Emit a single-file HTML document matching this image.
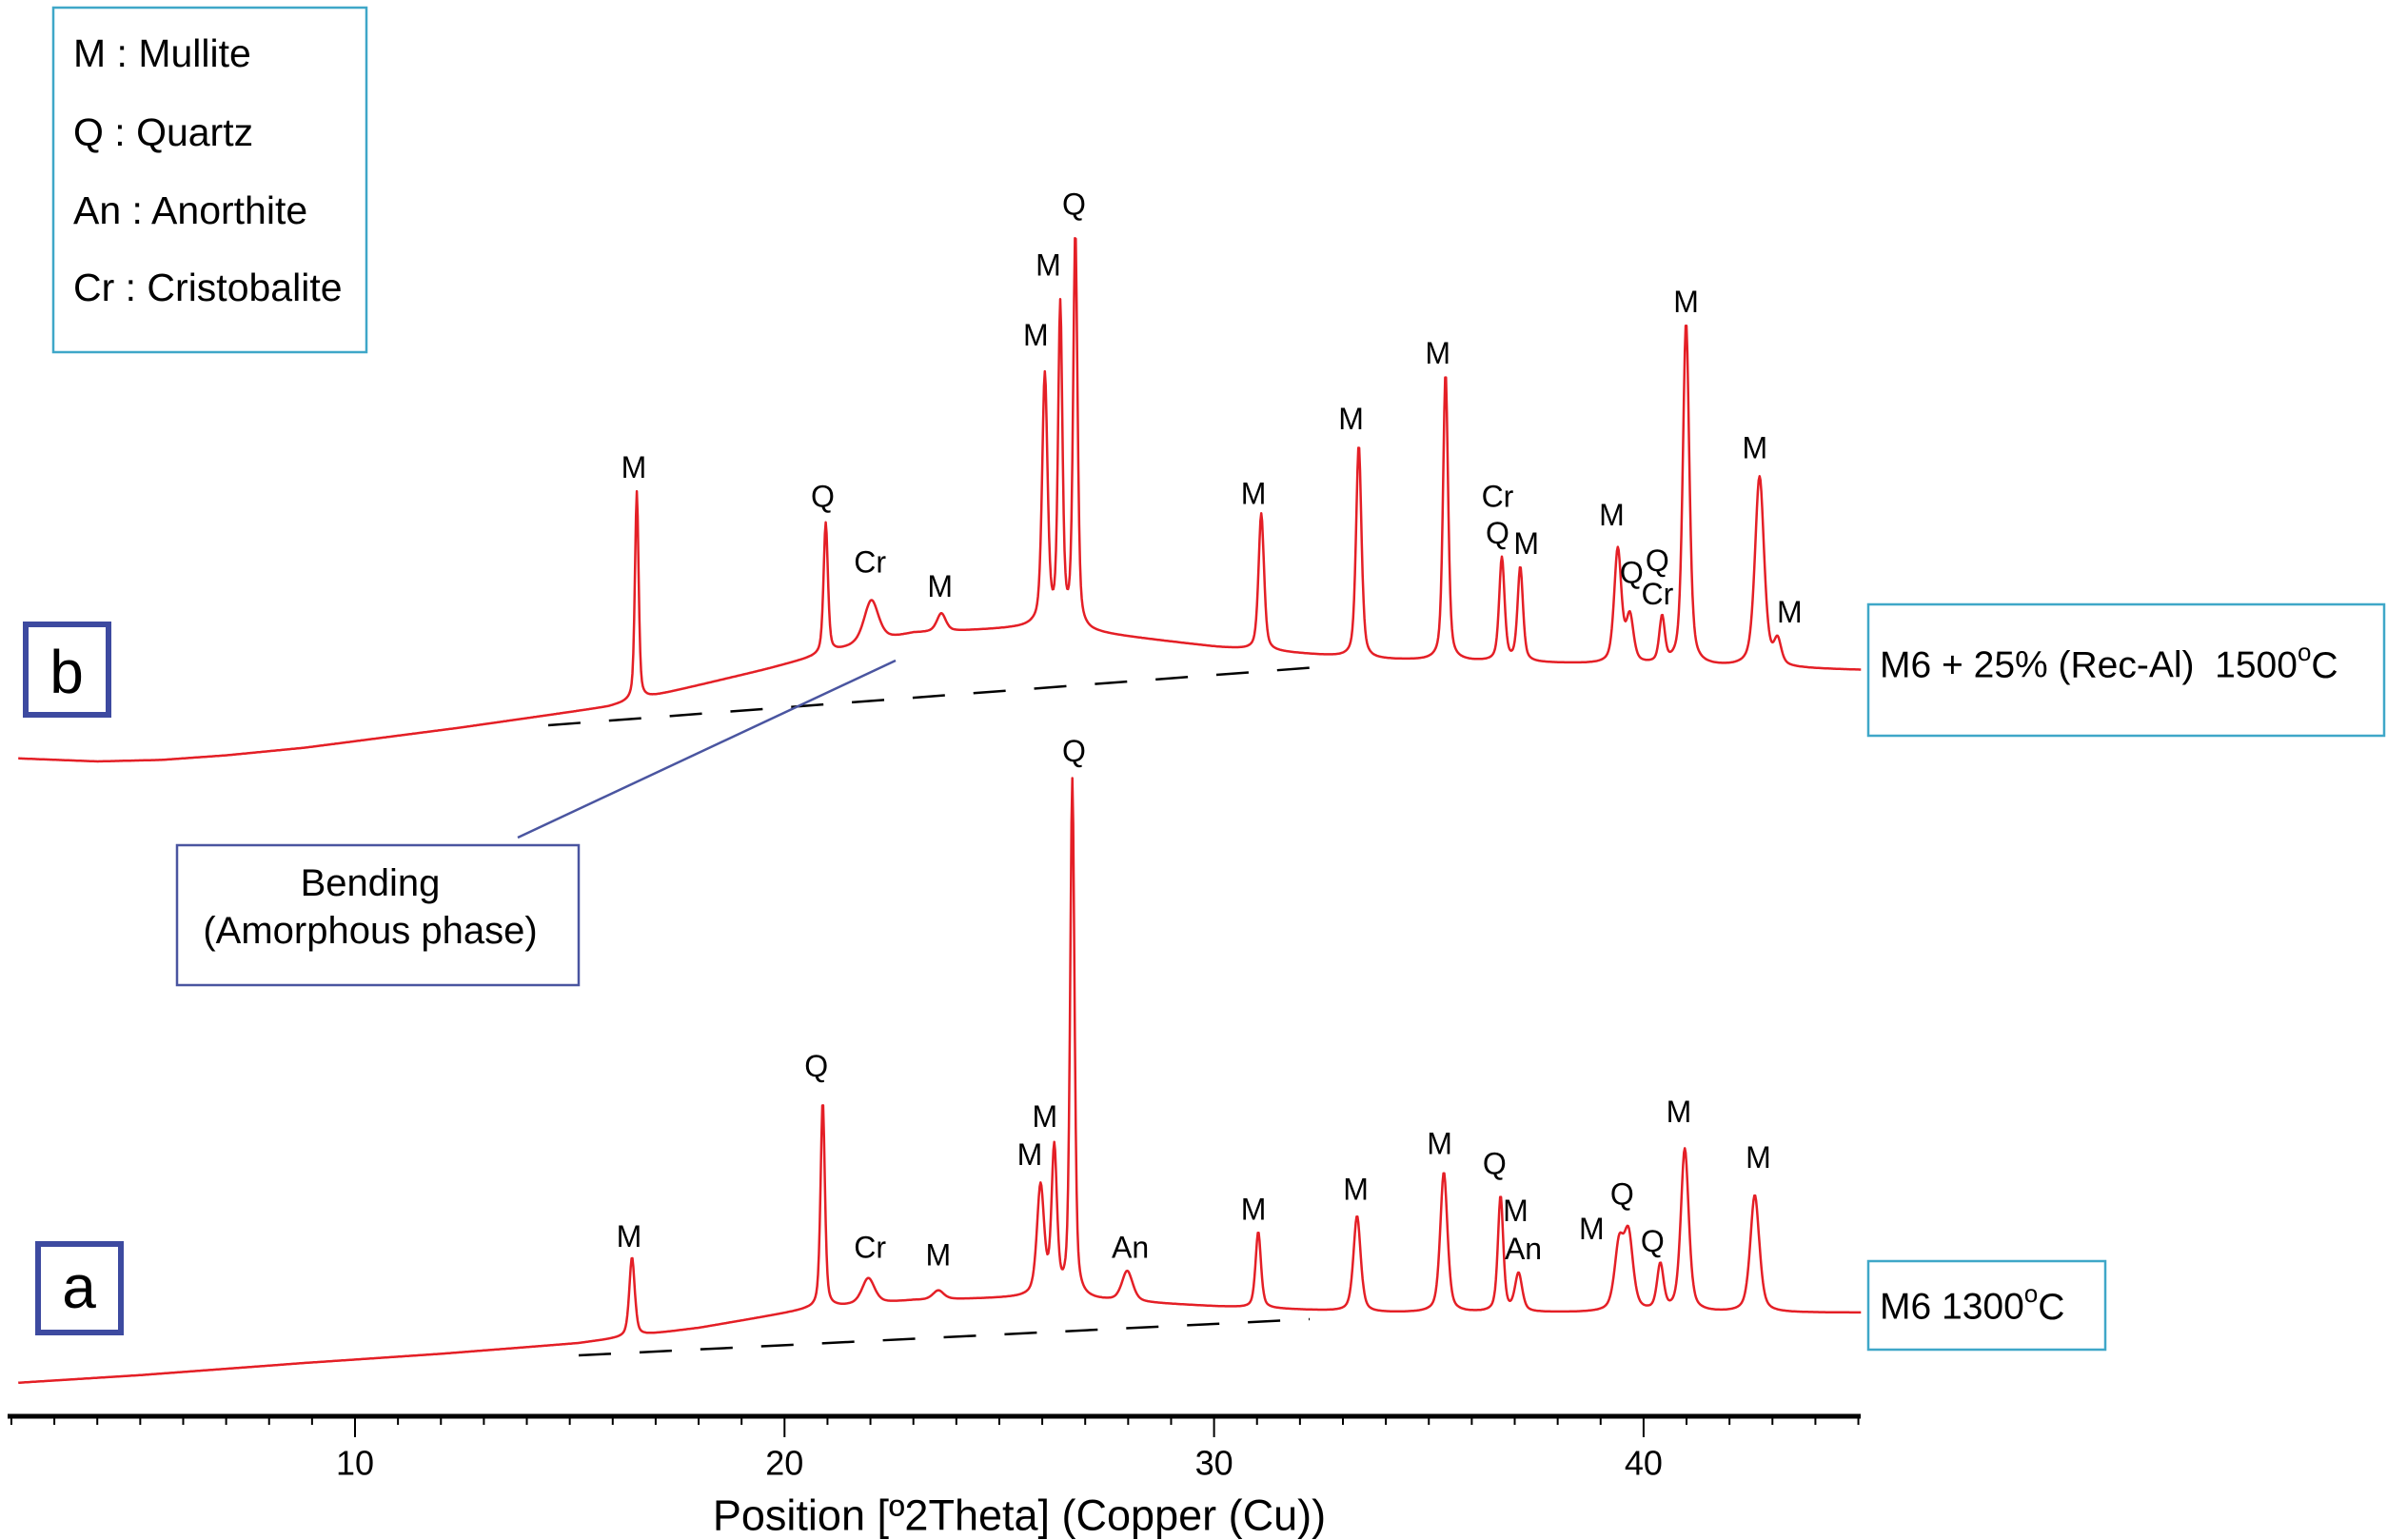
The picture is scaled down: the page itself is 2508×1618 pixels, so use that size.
<!DOCTYPE html>
<html><head><meta charset="utf-8"><style>
html,body{margin:0;padding:0;background:#fff;}
svg{display:block;font-family:"Liberation Sans",sans-serif;}
</style></head><body>
<svg id="chart" width="2508" height="1618" viewBox="0 0 2508 1618" xmlns="http://www.w3.org/2000/svg">
<g id="axis"></g>
<g id="traces"></g>
<g id="labels"></g>
<line x1="608" y1="1424" x2="1376" y2="1386" stroke="#000" stroke-width="2.5" stroke-dasharray="34,30"/>
<line x1="576" y1="762" x2="1384" y2="701" stroke="#000" stroke-width="2.5" stroke-dasharray="34,30"/>
<line x1="544" y1="880" x2="941" y2="694" stroke="#4a55a0" stroke-width="2.5"/>
<g>
<rect x="56" y="8" width="329" height="362" fill="#fff" stroke="#3fa7c8" stroke-width="2.5"/>
<text x="77" y="56" font-size="41" dominant-baseline="central">M : Mullite</text>
<text x="77" y="139" font-size="41" dominant-baseline="central">Q : Quartz</text>
<text x="77" y="221" font-size="41" dominant-baseline="central">An : Anorthite</text>
<text x="77" y="302" font-size="41" dominant-baseline="central">Cr : Cristobalite</text>
</g>
<g>
<rect x="27" y="656" width="87" height="95" fill="#fff" stroke="#3d4aa0" stroke-width="6"/>
<text x="70" y="706" font-size="64" text-anchor="middle" dominant-baseline="central">b</text>
</g>
<g>
<rect x="40" y="1307" width="87" height="93" fill="#fff" stroke="#3d4aa0" stroke-width="6"/>
<text x="83" y="1352" font-size="64" text-anchor="middle" dominant-baseline="central">a</text>
</g>
<g>
<rect x="186" y="888" width="422" height="147" fill="#fff" stroke="#4a55a0" stroke-width="2.5"/>
<text x="389" y="928" font-size="40" text-anchor="middle" dominant-baseline="central">Bending</text>
<text x="389" y="978" font-size="40" text-anchor="middle" dominant-baseline="central">(Amorphous phase)</text>
</g>
<g>
<rect x="1963" y="635" width="542" height="138" fill="#fff" stroke="#3fa7c8" stroke-width="2.5"/>
<text x="1975" y="699" font-size="39" dominant-baseline="central">M6 + 25% (Rec-Al)&#160;&#160;1500<tspan dy="-14" font-size="26">o</tspan><tspan dy="14">C</tspan></text>
</g>
<g>
<rect x="1963" y="1325" width="249" height="93" fill="#fff" stroke="#3fa7c8" stroke-width="2.5"/>
<text x="1975" y="1373" font-size="39" dominant-baseline="central">M6 1300<tspan dy="-14" font-size="26">o</tspan><tspan dy="14">C</tspan></text>
</g>
<text x="1071" y="1592" font-size="45" text-anchor="middle" dominant-baseline="central">Position [º2Theta] (Copper (Cu))</text>
</svg>
<script>
// ---- data ----
const xTicks = [10, 20, 30, 40];
const bgA_theta = [2.16, 5.0, 8.83, 12.0, 15.2, 18.0, 20.5, 23.0, 25.8, 30.1, 33.7, 45.07];
const bgA_counts = [22, 27, 35, 41, 48, 58, 70, 76, 78, 72, 68, 68];
const bgB_theta = [2.16, 4.0, 5.5, 7.0, 8.83, 12.4, 15.9, 19.5, 21.6, 23.0, 25.8, 27.3, 30.1, 33.7, 45.07];
const bgB_counts = [432, 430, 431, 434, 439, 452, 466, 490, 505, 514, 518, 514, 505, 497, 490];
const peaksA_pos = [16.45, 20.89, 21.95, 23.58, 25.96, 26.28, 26.70, 27.98, 31.03, 33.33, 35.35, 36.67, 37.09, 39.43, 39.65, 40.39, 40.96, 42.59];
const peaksA_h   = [52, 136, 17, 6, 72, 96, 340, 20, 50, 63, 92, 76, 25, 42, 48, 30, 107, 77];
const peaksA_w   = [0.15, 0.12, 0.35, 0.3, 0.2, 0.15, 0.12, 0.3, 0.15, 0.2, 0.2, 0.15, 0.2, 0.25, 0.25, 0.18, 0.22, 0.25];
const peaksB_pos = [16.56, 20.96, 22.02, 23.65, 26.06, 26.42, 26.77, 31.10, 33.37, 35.39, 36.70, 37.13, 39.40, 39.68, 40.43, 40.99, 42.70, 43.12];
const peaksB_h   = [137, 86, 28, 12, 165, 210, 260, 90, 140, 189, 68, 62, 75, 30, 30, 225, 125, 16];
const peaksB_w   = [0.1, 0.12, 0.4, 0.25, 0.15, 0.12, 0.12, 0.15, 0.15, 0.14, 0.15, 0.15, 0.2, 0.2, 0.15, 0.18, 0.25, 0.2];
const labB_text = ["M","Q","Cr","M","M","M","Q","M","M","M","Cr","Q","M","M","Q","Q","Cr","M","M","M"];
const labB_theta = [16.49,20.89,21.99,23.62,25.85,26.14,26.74,30.92,33.19,35.21,36.60,36.60,37.27,39.26,39.72,40.32,40.32,40.99,42.59,43.40];
const labB_counts = [623,604,561,545,710,756,796,606,655,698,604,580,573,592,554,562,540,732,636,528];
const labA_text = ["M","Q","Cr","M","M","M","Q","An","M","M","M","Q","M","An","M","Q","Q","M","M"];
const labA_theta = [16.38,20.74,21.99,23.58,25.71,26.06,26.74,28.05,30.92,33.30,35.25,36.53,37.02,37.20,38.79,39.50,40.21,40.82,42.67];
const labA_counts = [118,230,111,106,172,197,437,111,136,149,179,166,135,110,123,146,115,200,170];

// ---- scales ----
const X = t => 373 + (t - 10) * 45.13;
const Y = c => 1488 - c * 1.6;
const NS = "http://www.w3.org/2000/svg";
function mk(tag, attrs, parent){ const e=document.createElementNS(NS,tag); for(const k in attrs) e.setAttribute(k,attrs[k]); parent.appendChild(e); return e; }
function interp(ts, cs, t){ if(t<=ts[0]) return cs[0]; for(let i=1;i<ts.length;i++){ if(t<=ts[i]){ const f=(t-ts[i-1])/(ts[i]-ts[i-1]); return cs[i-1]+f*(cs[i]-cs[i-1]); } } return cs[cs.length-1]; }
function profile(pos,h,w,t){ let s=0; for(let i=0;i<pos.length;i++){ const d=(t-pos[i])/(w[i]/2); s+=h[i]*(0.5*Math.exp(-0.693*d*d)+0.5/(1+d*d)); } return s; }

// axis
const ax = document.getElementById('axis');
const axLine = mk('line',{x1:8,y1:1488,x2:1955,y2:1488,stroke:'#000','stroke-width':5},ax);


for(let t=2; t<=45; t++){
  const major = t%10===0;
  const tk = mk('line',{x1:X(t),y1:1488,x2:X(t),y2:major?1510:1497,stroke:'#000','stroke-width':2},ax);
  
  
}
xTicks.forEach(t=>{
  const tl = mk('text',{x:X(t),y:1537,'font-size':36,'text-anchor':'middle','dominant-baseline':'central'},ax);
  tl.textContent = t;
  
  
});

// traces
const tr = document.getElementById('traces');
function trace(bt,bc,pos,h,w,name){
  let d='';
  for(let t=2.16; t<=45.07; t+=0.02){
    const c = interp(bt,bc,t) + profile(pos,h,w,t);
    d += (d?'L':'M') + X(t).toFixed(1) + ',' + Y(c).toFixed(1);
  }
  const p = mk('path',{d:d,fill:'none',stroke:'#e41f26','stroke-width':2.5,'stroke-linejoin':'round'},tr);
  
  
}
trace(bgB_theta,bgB_counts,peaksB_pos,peaksB_h,peaksB_w,'trace-b-1500c');
trace(bgA_theta,bgA_counts,peaksA_pos,peaksA_h,peaksA_w,'trace-a-1300c');

// labels
const lg = document.getElementById('labels');
function labels(txt,th,cn,name){
  txt.forEach((s,i)=>{
    const e = mk('text',{x:X(th[i]),y:Y(cn[i]),'font-size':32,'text-anchor':'middle','dominant-baseline':'central'},lg);
    e.textContent = s;
    
    
  });
}
labels(labB_text,labB_theta,labB_counts,'peak-label-b');
labels(labA_text,labA_theta,labA_counts,'peak-label-a');
</script>
</body></html>
